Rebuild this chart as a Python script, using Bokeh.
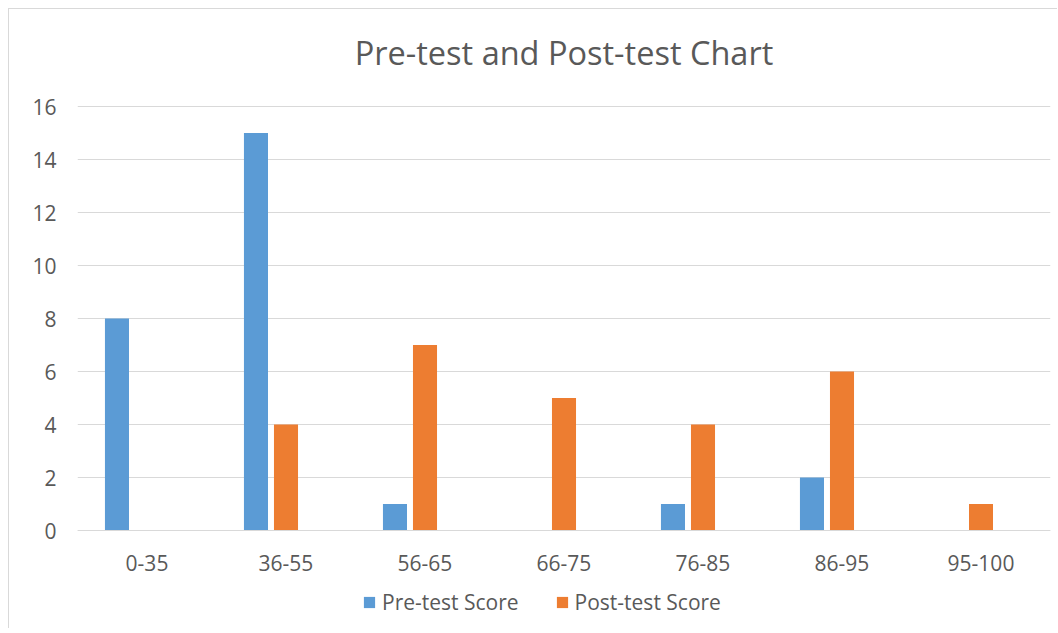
from bokeh.plotting import figure
from bokeh.models import ColumnDataSource, FixedTicker, Range1d, FactorRange, Legend, LegendItem, Label
from bokeh.transform import dodge
from bokeh.embed import file_html
from bokeh.resources import INLINE

categories = ["0-35", "36-55", "56-65", "66-75", "76-85", "86-95", "95-100"]
pre_scores = [8, 15, 1, 0, 1, 2, 0]
post_scores = [0, 4, 7, 5, 4, 6, 1]
y_ticks = [0, 2, 4, 6, 8, 10, 12, 14, 16]
title_text = "Pre-test and Post-test Chart"
series_names = ["Pre-test Score", "Post-test Score"]

FONT = "Open Sans"
TXT = "#595959"
GRID = "#D9D9D9"

# layout (pixels, relative to the figure canvas)
FIG_H = 620
ZERO_PX = 521        # y pixel of value 0 from figure top
PX_PER_UNIT = 26.5
y_top = ZERO_PX / PX_PER_UNIT                # room above 16 for the title
y_bottom = -(FIG_H - ZERO_PX) / PX_PER_UNIT  # room below 0 for labels + legend
title_y = (ZERO_PX - 43) / PX_PER_UNIT

source = ColumnDataSource(dict(cat=categories, pre=pre_scores, post=post_scores))

p = figure(
    x_range=FactorRange(*categories, range_padding=0),
    y_range=Range1d(y_bottom, y_top),
    width=1049, height=FIG_H,
    output_backend="svg", toolbar_location=None,
    min_border_left=68, min_border_right=8, min_border_top=0, min_border_bottom=0,
)
p.styles = {"margin-left": "8px", "margin-top": "8px",
            "border-left": "1px solid #D9D9D9", "border-top": "1px solid #D9D9D9"}

title = Label(x=len(categories) / 2, y=title_y, text=title_text,
              text_align="center", text_baseline="middle",
              text_font=FONT, text_font_size="32.5px", text_color=TXT)
p.add_layout(title)

r_pre = p.vbar(x=dodge("cat", -0.216, range=p.x_range), top="pre", bottom=0, width=0.173,
               source=source, fill_color="#5B9BD5", line_color=None)
r_post = p.vbar(x=dodge("cat", 0.0, range=p.x_range), top="post", bottom=0, width=0.173,
                source=source, fill_color="#ED7D31", line_color=None)

p.outline_line_color = None
p.background_fill_color = "white"
p.border_fill_color = "white"

p.yaxis.ticker = FixedTicker(ticks=y_ticks)
p.yaxis.axis_line_color = None
p.yaxis.major_tick_line_color = None
p.yaxis.minor_tick_line_color = None
p.yaxis.major_label_standoff = 15
p.yaxis.major_label_text_font = FONT
p.yaxis.major_label_text_font_size = "21px"
p.yaxis.major_label_text_color = TXT

p.xaxis.fixed_location = 0
p.xaxis.axis_line_color = GRID
p.xaxis.major_tick_line_color = None
p.xaxis.minor_tick_line_color = None
p.xaxis.major_label_standoff = 18
p.xaxis.major_label_text_font = FONT
p.xaxis.major_label_text_font_size = "21px"
p.xaxis.major_label_text_color = TXT

p.xgrid.grid_line_color = None
p.ygrid.grid_line_color = GRID
p.ygrid.grid_line_width = 1

legend = Legend(items=[LegendItem(label=series_names[0], renderers=[r_pre]),
                       LegendItem(label=series_names[1], renderers=[r_post])],
                orientation="horizontal", location=(285, 13))
legend.label_text_font = FONT
legend.label_text_font_size = "21px"
legend.label_text_color = TXT
legend.glyph_width = 14
legend.glyph_height = 14
legend.label_standoff = 6
legend.spacing = 36
legend.padding = 0
legend.margin = 0
legend.border_line_color = None
legend.background_fill_alpha = 0
p.add_layout(legend)

open("out.html", "w").write(file_html(p, INLINE))
